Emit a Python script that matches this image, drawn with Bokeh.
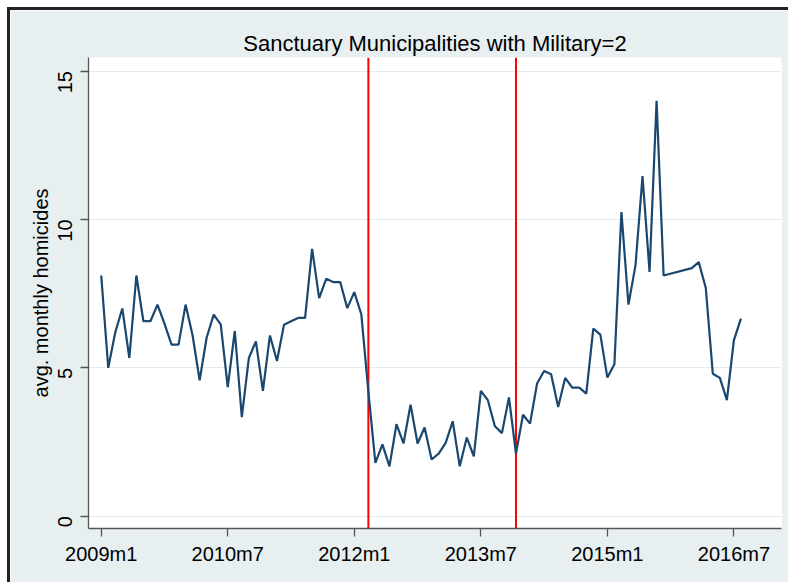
import math
from bokeh.plotting import figure
from bokeh.models import Range1d, FixedTicker, Span
from bokeh.embed import file_html
from bokeh.resources import INLINE

# months counted from 2009m1 (0 = 2009m1); 2015m10-2015m12 missing in source
months = list(range(0, 81)) + list(range(84, 92))
homicides = [
    8.11, 5.00, 6.20, 7.00, 5.33, 8.11, 6.57, 6.57, 7.13, 6.49,
    5.78, 5.78, 7.13, 6.09, 4.58, 6.02, 6.79, 6.46, 4.35, 6.24,
    3.34, 5.33, 5.89, 4.22, 6.09, 5.23, 6.45, 6.57, 6.68, 6.68,
    9.01, 7.35, 8.00, 7.89, 7.89, 7.01, 7.55, 6.80, 4.20, 1.80,
    2.42, 1.68, 3.10, 2.45, 3.76, 2.45, 2.99, 1.91, 2.11, 2.47,
    3.20, 1.68, 2.65, 2.02, 4.22, 3.91, 3.03, 2.80, 4.00, 2.11,
    3.42, 3.12, 4.47, 4.89, 4.78, 3.68, 4.66, 4.33, 4.33, 4.13,
    6.32, 6.12, 4.67, 5.12, 10.25, 7.13, 8.45, 11.46, 8.23, 14.00,
    8.11,
    8.36, 8.56, 7.69, 4.80, 4.66, 3.91, 5.93, 6.66,
]
x_ticks = [0, 18, 36, 54, 72, 90]
x_tick_labels = ["2009m1", "2010m7", "2012m1", "2013m7", "2015m1", "2016m7"]
y_ticks = [0, 5, 10, 15]
event_months = [38, 59]  # 2012m3, 2013m12

FONT = "Liberation Sans"
BG = "#E8EFF1"

p = figure(
    width=781, height=575,
    x_range=Range1d(-1.81, 96.77), y_range=Range1d(-0.414, 15.455),
    output_backend="svg", toolbar_location=None,
    min_border_left=78, min_border_right=10, min_border_top=47, min_border_bottom=57,
    background_fill_color="white", border_fill_color=BG, outline_line_color=None,
)
p.styles = {
    "margin-top": "7px", "margin-left": "7px",
    "border-top": "3px solid #222222", "border-left": "3px solid #222222",
}

p.title.text = "Sanctuary Municipalities with Military=2"
p.title.align = "center"
p.title.text_font = FONT
p.title.text_font_size = "22px"
p.title.text_font_style = "normal"
p.title.text_color = "black"
p.title.standoff = 4

for ev in event_months:
    p.add_layout(Span(location=ev, dimension="height", line_color="#FF0000",
                      line_width=2, level="underlay"))

p.line(months, homicides, line_color="#1A476F", line_width=2.2)

p.xaxis.ticker = FixedTicker(ticks=x_ticks)
p.xaxis.major_label_overrides = {t: l for t, l in zip(x_ticks, x_tick_labels)}
p.yaxis.ticker = FixedTicker(ticks=y_ticks)
p.yaxis.major_label_orientation = math.pi / 2
p.yaxis.axis_label = "avg. monthly homicides"

for ax in (p.xaxis[0], p.yaxis[0]):
    ax.axis_line_color = "#555555"
    ax.axis_line_width = 1.3
    ax.major_tick_line_color = "#555555"
    ax.major_tick_line_width = 1.3
    ax.major_tick_out = 8
    ax.major_tick_in = 0
    ax.minor_tick_line_color = None
    ax.major_label_text_font = FONT
    ax.major_label_text_font_size = "20px"
    ax.major_label_text_color = "black"
    ax.axis_label_text_font = FONT
    ax.axis_label_text_font_size = "20px"
    ax.axis_label_text_font_style = "normal"
    ax.axis_label_text_color = "black"

p.xaxis.major_label_standoff = 6
p.yaxis.major_label_standoff = 15
p.yaxis.axis_label_standoff = -3

p.xgrid.grid_line_color = None
p.ygrid.grid_line_color = "#E2EBEE"
p.ygrid.grid_line_width = 1.2

open("out.html", "w").write(file_html(p, INLINE))
